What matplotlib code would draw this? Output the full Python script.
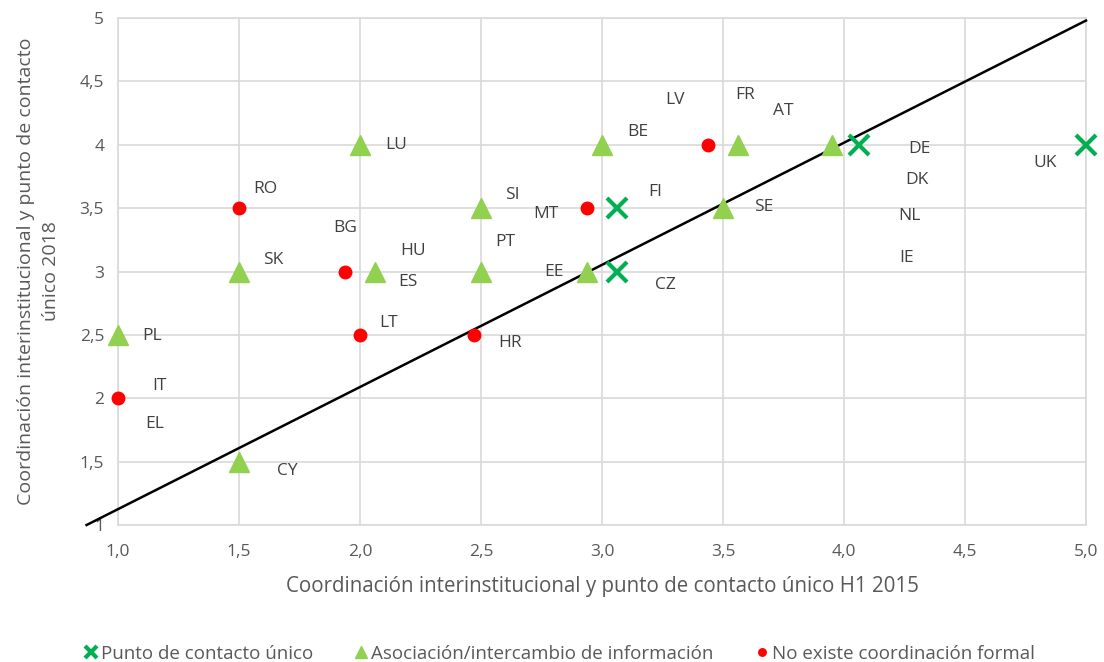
import numpy as np
import matplotlib.pyplot as plt

# --------------------------------------------------------------------
# Dades
# --------------------------------------------------------------------
punto_x = [3.06, 3.06, 4.06, 5.0]
punto_y = [3.5, 3.0, 4.0, 4.0]

asoc_x = [1.0, 1.5, 1.5, 2.0, 2.06, 2.5, 2.5, 2.94, 3.0, 3.56, 3.5, 3.95]
asoc_y = [2.5, 3.0, 1.5, 4.0, 3.0, 3.5, 3.0, 3.0, 4.0, 4.0, 3.5, 4.0]

noco_x = [1.5, 1.94, 2.0, 2.47, 1.0, 2.94, 3.44]
noco_y = [3.5, 3.0, 2.5, 2.5, 2.0, 3.5, 4.0]

country_labels = ["RO", "LU", "SI", "BE", "LV", "FR", "AT", "DE", "DK", "NL",
                  "IE", "UK", "FI", "MT", "SE", "BG", "HU", "PT", "SK", "ES",
                  "EE", "CZ", "LT", "HR", "PL", "IT", "EL", "CY"]
label_x = [1.61, 2.15, 2.63, 3.15, 3.30, 3.59, 3.75, 4.31, 4.30, 4.27,
           4.26, 4.83, 3.22, 2.77, 3.67, 1.94, 2.22, 2.60, 1.64, 2.20,
           2.80, 3.26, 2.12, 2.62, 1.14, 1.17, 1.15, 1.70]
label_y = [3.65, 4.00, 3.60, 4.10, 4.35, 4.39, 4.27, 3.97, 3.72, 3.44,
           3.11, 3.86, 3.63, 3.45, 3.51, 3.34, 3.16, 3.23, 3.09, 2.92,
           3.00, 2.89, 2.59, 2.44, 2.49, 2.10, 1.80, 1.43]

# línia de tendència
trend_x = [0.87, 5.0]
trend_y = [1.0, 4.98]

xticks = [1.0, 1.5, 2.0, 2.5, 3.0, 3.5, 4.0, 4.5, 5.0]
yticks = [1, 1.5, 2, 2.5, 3, 3.5, 4, 4.5, 5]

# --------------------------------------------------------------------
# Figura
# --------------------------------------------------------------------
plt.rcParams['font.family'] = ['Open Sans', 'DejaVu Sans']
gray = "#595959"

fig = plt.figure(figsize=(11.04, 6.62), dpi=100)
ax = fig.add_axes([0.1069, 0.2069, 0.8768, 0.7659])

ax.plot(trend_x, trend_y, color="black", lw=1.8, clip_on=False, zorder=3)

ax.plot(punto_x, punto_y, linestyle="none", marker="x", color="#00B050",
        markersize=14, mew=3, label="Punto de contacto único", clip_on=False, zorder=4)
ax.plot(asoc_x, asoc_y, linestyle="none", marker="^", color="#92D050",
        markersize=14, label="Asociación/intercambio de información", clip_on=False, zorder=4)
ax.plot(noco_x, noco_y, linestyle="none", marker="o", color="#FF0000",
        markersize=9, label="No existe coordinación formal", clip_on=False, zorder=4)

for lab, lx, ly in zip(country_labels, label_x, label_y):
    ax.text(lx, ly, lab, fontsize=12.5, color="#404040", ha="center", va="center")

ax.set_xlim(1.0, 5.0)
ax.set_ylim(1, 5)
ax.set_xticks(xticks)
ax.set_xticklabels([f"{v:.1f}".replace(".", ",") for v in xticks])
ax.set_yticks(yticks)
ax.set_yticklabels([f"{v:g}".replace(".", ",") for v in yticks])
ax.tick_params(length=0, labelsize=12.5, labelcolor=gray, pad=14)
ax.tick_params(axis="y", pad=10)
ax.grid(color="#D9D9D9", lw=1.2)
ax.set_axisbelow(True)
for s in ax.spines.values():
    s.set_color("#D9D9D9")
    s.set_linewidth(1.2)

ax.set_xlabel("Coordinación interinstitucional y punto de contacto único H1 2015",
              fontsize=14.8, color=gray, labelpad=11)
ax.set_ylabel("Coordinación interinstitucional y punto de contacto\núnico 2018",
              fontsize=14, color=gray, labelpad=14, linespacing=1.5)

fig.legend(loc="lower center", ncol=3, frameon=False, fontsize=13.5,
           bbox_to_anchor=(0.505, -0.027), handletextpad=0.0, columnspacing=2.0,
           handlelength=1.1, markerscale=0.6, labelcolor=gray)

fig.savefig("out.png", dpi=100)
